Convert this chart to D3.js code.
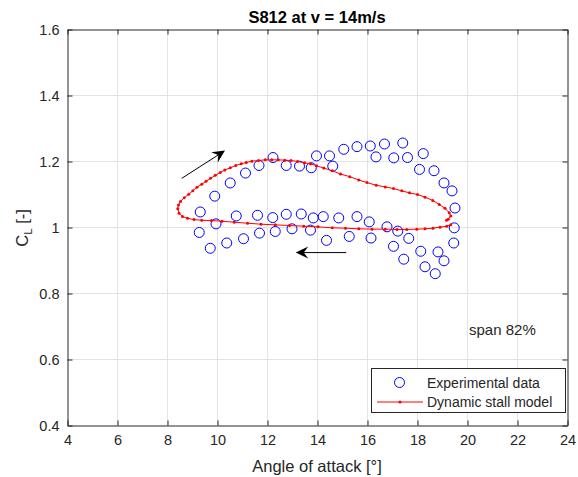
<!DOCTYPE html>
<html>
<head>
<meta charset="utf-8">
<script src="https://cdn.jsdelivr.net/npm/d3@7"></script>
<style>
  body { margin: 0; background: #fff; }
  svg text { font-family: "Liberation Sans", Arial, Helvetica, sans-serif; fill: #262626; }
</style>
</head>
<body>
<svg id="chart" width="578" height="477"></svg>
<script>
// Measured lift coefficients (angle of attack in degrees, C_L)
const expAlpha = [9.31, 9.89, 10.51, 11.12, 11.66, 12.22, 12.75, 13.28, 13.75, 13.96, 14.48, 14.61,
  15.05, 15.58, 16.11, 16.34, 16.68, 17.05, 17.41, 17.60, 18.23, 18.08, 18.66, 19.06, 19.38, 19.50,
  19.47, 19.45, 18.71, 18.30, 19.06, 18.82, 18.13, 17.45, 17.04, 17.65, 17.21, 16.78, 16.07, 15.58,
  14.85, 14.23, 13.83, 13.35, 12.75, 12.21, 11.60, 10.75, 9.94, 9.27, 9.71, 10.37, 11.04, 11.68,
  12.31, 12.98, 13.72, 14.36, 15.27, 16.14];
const expCl = [1.047, 1.095, 1.135, 1.165, 1.188, 1.212, 1.188, 1.186, 1.181, 1.217, 1.217, 1.186,
  1.237, 1.245, 1.247, 1.214, 1.253, 1.211, 1.256, 1.212, 1.224, 1.176, 1.172, 1.135, 1.111, 1.059,
  0.999, 0.953, 0.860, 0.881, 0.899, 0.926, 0.928, 0.904, 0.943, 0.967, 0.989, 1.002, 1.017, 1.033,
  1.029, 1.033, 1.029, 1.041, 1.040, 1.030, 1.037, 1.035, 1.011, 0.985, 0.937, 0.953, 0.966, 0.983,
  0.988, 0.996, 0.992, 0.961, 0.973, 0.968];

// Dynamic stall model output over one pitching cycle
const modelAlpha = [19.33, 19.17, 18.90, 18.62, 18.30, 17.97, 17.57, 17.18, 16.71, 16.18, 15.65, 15.12,
  14.59, 14.02, 13.45, 12.88, 12.31, 11.74, 11.20, 10.67, 10.18, 9.76, 9.37, 9.06, 8.80, 8.60, 8.46,
  8.41, 8.44, 8.52, 8.67, 8.85, 9.01, 9.18, 9.37, 9.54, 9.72, 9.91, 10.11, 10.29, 10.51, 10.73, 10.95,
  11.15, 11.37, 11.64, 11.91, 12.17, 12.43, 12.69, 12.94, 13.20, 13.48, 13.72, 13.96, 14.25, 14.59,
  14.92, 15.29, 15.65, 15.98, 16.35, 16.71, 17.04, 17.37, 17.68, 18.00, 18.30, 18.61, 18.87, 19.10,
  19.27, 19.33, 19.23, 19.16];
const modelCl = [1.008, 1.004, 1.001, 0.998, 0.996, 0.995, 0.994, 0.994, 0.995, 0.995, 0.996, 0.998,
  0.999, 1.002, 1.004, 1.006, 1.008, 1.010, 1.013, 1.016, 1.019, 1.021, 1.022, 1.024, 1.028, 1.033,
  1.043, 1.057, 1.068, 1.079, 1.090, 1.101, 1.111, 1.122, 1.131, 1.140, 1.149, 1.158, 1.167, 1.174,
  1.181, 1.188, 1.193, 1.197, 1.201, 1.203, 1.205, 1.205, 1.205, 1.204, 1.203, 1.200, 1.196, 1.193,
  1.187, 1.180, 1.172, 1.162, 1.154, 1.144, 1.136, 1.128, 1.123, 1.118, 1.111, 1.105, 1.100, 1.092,
  1.082, 1.070, 1.058, 1.045, 1.035, 1.025, 1.022];

const xTicks = [4, 6, 8, 10, 12, 14, 16, 18, 20, 22, 24];
const yTicks = [0.4, 0.6, 0.8, 1.0, 1.2, 1.4, 1.6];

// Direction-of-travel arrows: [alpha0, cl0, alpha1, cl1]
const upArrow = [8.57, 1.149, 10.30, 1.233];
const downArrow = [15.15, 0.924, 13.13, 0.924];

const svg = d3.select("#chart");
const pLeft = 67.5, pRight = 567.5, pTop = 29.5, pBottom = 425.5;
const ink = "#262626";

const x = d3.scaleLinear().domain([4, 24]).range([pLeft, pRight]);
const y = d3.scaleLinear().domain([0.4, 1.6]).range([pBottom, pTop]);

// grid
const grid = svg.append("g");
grid.selectAll(".gx").data(xTicks.slice(1, -1)).join("line")
  .attr("x1", d => x(d)).attr("x2", d => x(d)).attr("y1", pTop).attr("y2", pBottom)
  .attr("stroke", "#e3e3e3").attr("stroke-width", 1);
grid.selectAll(".gy").data(yTicks.slice(1, -1)).join("line")
  .attr("y1", d => y(d)).attr("y2", d => y(d)).attr("x1", pLeft).attr("x2", pRight)
  .attr("stroke", "#e3e3e3").attr("stroke-width", 1);

// axes with inward ticks on all four sides
const fmtY = d => d3.format(".1f")(d).replace(/\.0$/, "");
function styleAxis(g) {
  g.select(".domain").attr("stroke", ink);
  g.selectAll(".tick line").attr("stroke", ink);
  g.selectAll("text").attr("font-size", 14.5).attr("fill", ink)
    .attr("font-family", "Liberation Sans, Arial, sans-serif");
}
svg.append("g").attr("transform", `translate(0,${pBottom})`)
  .call(d3.axisBottom(x).tickValues(xTicks).tickSize(-5).tickPadding(9).tickSizeOuter(0))
  .call(styleAxis);
svg.append("g").attr("transform", `translate(0,${pTop})`)
  .call(d3.axisTop(x).tickValues(xTicks).tickSize(-5).tickFormat("").tickSizeOuter(0))
  .call(styleAxis);
svg.append("g").attr("transform", `translate(${pLeft},0)`)
  .call(d3.axisLeft(y).tickValues(yTicks).tickSize(-5).tickPadding(8).tickFormat(fmtY).tickSizeOuter(0))
  .call(styleAxis);
svg.append("g").attr("transform", `translate(${pRight},0)`)
  .call(d3.axisRight(y).tickValues(yTicks).tickSize(-5).tickFormat("").tickSizeOuter(0))
  .call(styleAxis);

// experimental data
svg.append("g").selectAll("circle").data(expAlpha).join("circle")
  .attr("cx", d => x(d)).attr("cy", (d, i) => y(expCl[i])).attr("r", 5)
  .attr("fill", "none").attr("stroke", "#0000ff").attr("stroke-width", 1);

// dynamic stall model
const model = modelAlpha.map((a, i) => [a, modelCl[i]]);
svg.append("path").datum(model)
  .attr("d", d3.line().x(d => x(d[0])).y(d => y(d[1])))
  .attr("fill", "none").attr("stroke", "#ff0000").attr("stroke-width", 1);
svg.append("g").selectAll("circle").data(model).join("circle")
  .attr("cx", d => x(d[0])).attr("cy", d => y(d[1])).attr("r", 1.5).attr("fill", "#ff0000");

// arrows
function arrow(a) {
  const x0 = x(a[0]), y0 = y(a[1]), x1 = x(a[2]), y1 = y(a[3]);
  const ang = Math.atan2(y1 - y0, x1 - x0);
  const L = 12.5, W = 6, notch = 8;
  const ux = Math.cos(ang), uy = Math.sin(ang), px = -uy, py = ux;
  const bx = x1 - ux * L, by = y1 - uy * L;
  const nx = x1 - ux * notch, ny = y1 - uy * notch;
  svg.append("line").attr("x1", x0).attr("y1", y0).attr("x2", nx).attr("y2", ny)
    .attr("stroke", "#000").attr("stroke-width", 1);
  svg.append("path")
    .attr("d", `M${x1},${y1}L${bx + px * W},${by + py * W}L${nx},${ny}L${bx - px * W},${by - py * W}Z`)
    .attr("fill", "#000");
}
arrow(upArrow);
arrow(downArrow);

// texts
svg.append("text").attr("x", 317).attr("y", 23).attr("text-anchor", "middle")
  .attr("font-size", 16.5).attr("font-weight", "bold").style("fill", "#000").text("S812 at v = 14m/s");
svg.append("text").attr("x", 317).attr("y", 472).attr("text-anchor", "middle")
  .attr("font-size", 16.5).text("Angle of attack [°]");
const yl = svg.append("text").attr("transform", "translate(28,228) rotate(-90)")
  .attr("text-anchor", "middle").attr("font-size", 16.5);
yl.append("tspan").text("C");
yl.append("tspan").attr("font-size", 11.5).attr("dy", 3.5).text("L");
yl.append("tspan").attr("dy", -3.5).text(" [-]");
svg.append("text").attr("x", 469).attr("y", 335).attr("font-size", 15).text("span 82%");

// legend
const lg = svg.append("g");
lg.append("rect").attr("x", 371.5).attr("y", 368.5).attr("width", 194).attr("height", 44)
  .attr("fill", "#fff").attr("stroke", ink).attr("stroke-width", 1);
lg.append("circle").attr("cx", 399.5).attr("cy", 382.5).attr("r", 5)
  .attr("fill", "none").attr("stroke", "#0000ff");
lg.append("line").attr("x1", 377).attr("x2", 423).attr("y1", 402).attr("y2", 402)
  .attr("stroke", "#ff0000").attr("stroke-width", 1);
lg.append("circle").attr("cx", 400).attr("cy", 402).attr("r", 1.5).attr("fill", "#ff0000");
lg.append("text").attr("x", 427).attr("y", 387.5).attr("font-size", 14).text("Experimental data");
lg.append("text").attr("x", 427).attr("y", 407).attr("font-size", 14).text("Dynamic stall model");
</script>
</body>
</html>
